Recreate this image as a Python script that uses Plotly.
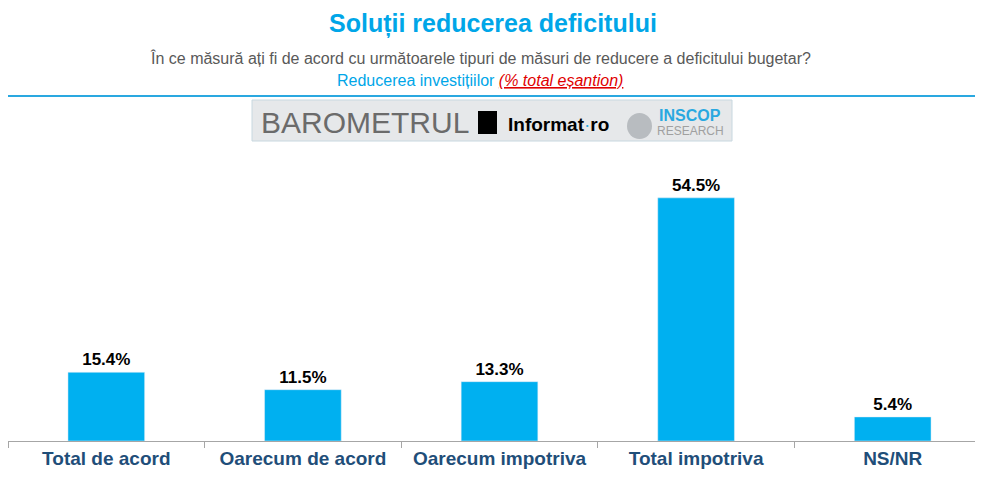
import plotly.graph_objects as go

categories = ["Total de acord", "Oarecum de acord", "Oarecum impotriva", "Total impotriva", "NS/NR"]
values = [15.4, 11.5, 13.3, 54.5, 5.4]
labels = [f"<b>{v}%</b>" for v in values]

fig = go.Figure(go.Bar(
    x=categories, y=values, text=labels, textposition="outside",
    marker_color="#00B0F0", width=0.39,
    textfont=dict(family="Arial", size=17, color="black"),
    cliponaxis=False,
))

W, H = 983, 494
DX, DY = -6, -7  # small correction for how the page gets photographed
def px(x, y):
    return (x + DX) / W, 1 - (y + DY) / H

shapes = [
    dict(type="line", xref="paper", yref="paper", x0=0, x1=1, y0=px(0, 95)[1], y1=px(0, 95)[1],
         line=dict(color="#2AA8E0", width=2)),
    dict(type="rect", xref="paper", yref="paper", x0=px(250, 0)[0], x1=px(730, 0)[0],
         y0=px(0, 140)[1], y1=px(0, 99)[1], line=dict(color="#C8D8E0", width=1),
         fillcolor="#E6E8EA"),
    dict(type="rect", xref="paper", yref="paper", x0=px(476, 0)[0], x1=px(495, 0)[0],
         y0=px(0, 133)[1], y1=px(0, 110)[1], line=dict(width=0), fillcolor="black"),
    dict(type="circle", xref="paper", yref="paper", x0=px(625, 0)[0], x1=px(650, 0)[0],
         y0=px(0, 138)[1], y1=px(0, 112)[1], line=dict(width=0), fillcolor="#B8BCC0"),
]

ann = [
    dict(text="<b>Soluții reducerea deficitului</b>", x=px(491, 0)[0], y=px(0, 22)[1],
         font=dict(family="Arial", size=25, color="#00A6E8")),
    dict(text="În ce măsură ați fi de acord cu următoarele tipuri de măsuri de reducere a deficitului bugetar?",
         x=px(478, 0)[0], y=px(0, 57)[1], font=dict(family="Arial", size=16, color="#595959")),
    dict(text="Reducerea investițiilor <span style='color:#E00000'><i><u>(% total eșantion)</u></i></span>",
         x=px(478, 0)[0], y=px(0, 79)[1], font=dict(family="Arial", size=16, color="#00A6E8")),
    dict(text="BAROMETRUL", x=px(363, 0)[0], y=px(0, 121)[1],
         font=dict(family="Arial", size=30, color="#6B6B6B")),
    dict(text="<b>Informat</b><span style='color:#2AA8E0'>·</span><b>ro</b>", x=px(556, 0)[0], y=px(0, 124)[1],
         font=dict(family="Arial", size=19, color="black")),
    dict(text="<b>INSCOP</b>", x=px(688, 0)[0], y=px(0, 114)[1],
         font=dict(family="Arial", size=16, color="#2AA8E0")),
    dict(text="RESEARCH", x=px(688, 0)[0], y=px(0, 130)[1],
         font=dict(family="Arial", size=12, color="#A0A0A0")),
]
for a in ann:
    a.update(xref="paper", yref="paper", showarrow=False, xanchor="center", yanchor="middle")

fig.update_layout(
    width=W, height=H, plot_bgcolor="white", paper_bgcolor="white",
    margin=dict(l=0, r=0, t=0, b=0), showlegend=False,
    shapes=shapes, annotations=ann,
    xaxis=dict(domain=[0, 1], showline=True, linecolor="#A6A6A6", ticks="outside",
               tickson="boundaries", tickcolor="#A6A6A6", ticklen=6,
               tickfont=dict(family="Arial", size=19, color="#1F4E79", weight="bold")),
    yaxis=dict(visible=False, range=[0, 65], domain=[1 - (440 + DY) / H, 1 - (150 + DY) / H]),
)
fig.write_html("out.html")
